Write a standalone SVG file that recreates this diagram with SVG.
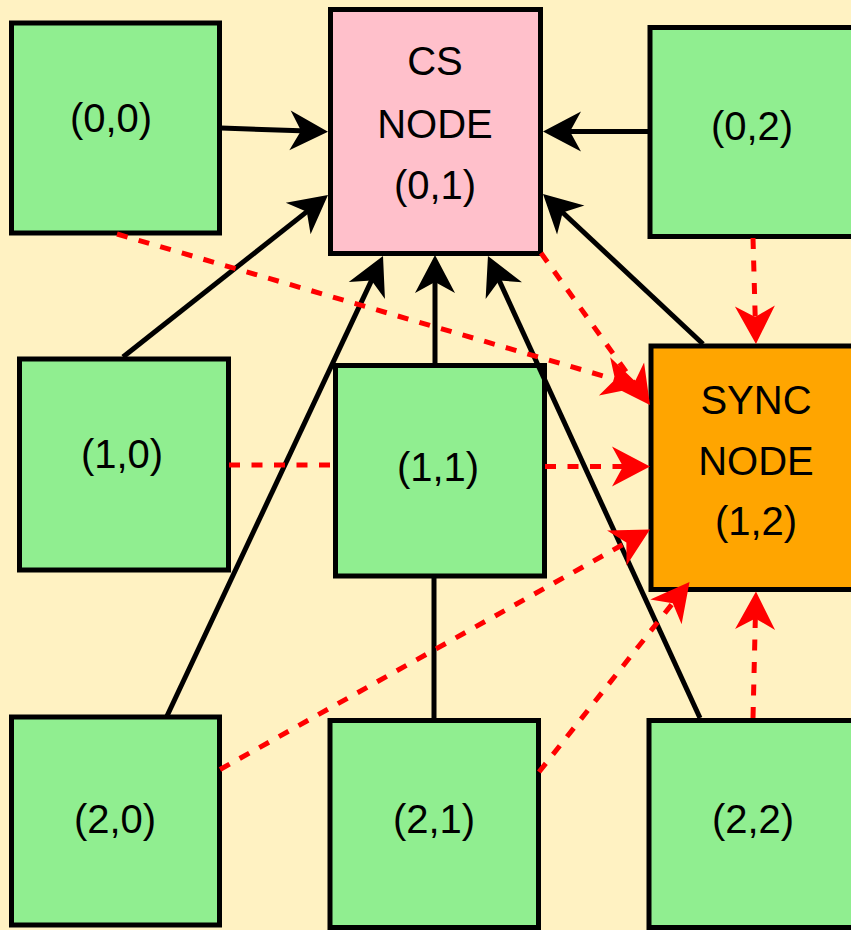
<svg xmlns="http://www.w3.org/2000/svg" width="851" height="930" viewBox="0 0 851 930">
<style>
.bg{fill:#FFF2C2}
.node rect{stroke:#000;stroke-width:5}
.g rect{fill:#90EE90}
.t{font-family:"Liberation Sans",Arial,sans-serif;font-size:40px;fill:#000;text-anchor:middle}
.k{stroke:#000;stroke-width:5;fill:none}
.r{stroke:#FF0000;stroke-width:5;fill:none;stroke-dasharray:11 11.5}
</style>
<defs>
<marker id="ak" markerUnits="userSpaceOnUse" viewBox="-20 -22 42 44" markerWidth="42" markerHeight="44" refX="0" refY="0" orient="auto" overflow="visible">
<path d="M20,0 L-18,-20 L-7,0 L-18,20 Z" fill="#000"/>
</marker>
<marker id="ar" markerUnits="userSpaceOnUse" viewBox="-20 -22 42 44" markerWidth="42" markerHeight="44" refX="0" refY="0" orient="auto" overflow="visible">
<path d="M20,0 L-18,-20 L-7,0 L-18,20 Z" fill="#FF0000"/>
</marker>
</defs>
<rect class="bg" x="0" y="0" width="851" height="930"/>

<g id="n00" class="node g"><rect x="11.5" y="23" width="208" height="210"/><text class="t" x="111" y="132">(0,0)</text></g>
<g id="n01" class="node"><rect x="330.5" y="9.5" width="210" height="244" fill="#FFC0CB"/><text class="t" x="435" y="75">CS</text><text class="t" x="435" y="137.5">NODE</text><text class="t" x="435" y="199">(0,1)</text></g>
<g id="n02" class="node g"><rect x="650" y="27.5" width="220" height="209"/><text class="t" x="752" y="140">(0,2)</text></g>
<g id="n10" class="node g"><rect x="19.5" y="359" width="209" height="211"/><text class="t" x="122" y="467.5">(1,0)</text></g>
<g id="n11" class="node g"><rect x="335.5" y="365.5" width="209" height="210.5"/><text class="t" x="438" y="481">(1,1)</text></g>
<g id="n12" class="node"><rect x="651" y="346" width="220" height="243.5" fill="#FFA500"/><text class="t" x="756" y="414">SYNC</text><text class="t" x="756" y="475">NODE</text><text class="t" x="756" y="535">(1,2)</text></g>
<g id="n20" class="node g"><rect x="11.5" y="717" width="208" height="208"/><text class="t" x="115" y="833">(2,0)</text></g>
<g id="n21" class="node g"><rect x="330" y="720.5" width="208.5" height="207"/><text class="t" x="434" y="833">(2,1)</text></g>
<g id="n22" class="node g"><rect x="649" y="720.5" width="220" height="207"/><text class="t" x="753" y="833">(2,2)</text></g>

<g id="connectors">
<line class="k" x1="221" y1="128" x2="308" y2="131" marker-end="url(#ak)"/>
<line class="k" x1="123" y1="357" x2="312.3" y2="207.4" marker-end="url(#ak)"/>
<line class="k" x1="167" y1="716" x2="374.5" y2="274.1" marker-end="url(#ak)"/>
<line class="k" x1="435" y1="364" x2="435" y2="275" marker-end="url(#ak)"/>
<line class="k" x1="700" y1="718" x2="496.3" y2="274.2" marker-end="url(#ak)"/>
<line class="k" x1="648" y1="131.5" x2="563" y2="131.5" marker-end="url(#ak)"/>
<line class="k" x1="703" y1="344" x2="557.6" y2="207.7" marker-end="url(#ak)"/>
<line class="k" x1="434" y1="718" x2="434" y2="578"/>

<line class="r" x1="117" y1="234" x2="621.8" y2="381.4" marker-end="url(#ar)"/>
<line class="r" x1="541" y1="253" x2="638.3" y2="388.7" marker-end="url(#ar)"/>
<line class="r" x1="229" y1="465" x2="335" y2="465"/>
<line class="r" x1="545" y1="466.5" x2="630" y2="466.5" marker-end="url(#ar)"/>
<line class="r" x1="220" y1="769.5" x2="632.5" y2="539.2" marker-end="url(#ar)"/>
<line class="r" x1="539" y1="772" x2="677.1" y2="597.7" marker-end="url(#ar)"/>
<line class="r" x1="753" y1="718" x2="755.5" y2="611.5" marker-end="url(#ar)"/>
<line class="r" x1="753" y1="238" x2="755.4" y2="324" marker-end="url(#ar)"/>
</g>
</svg>
